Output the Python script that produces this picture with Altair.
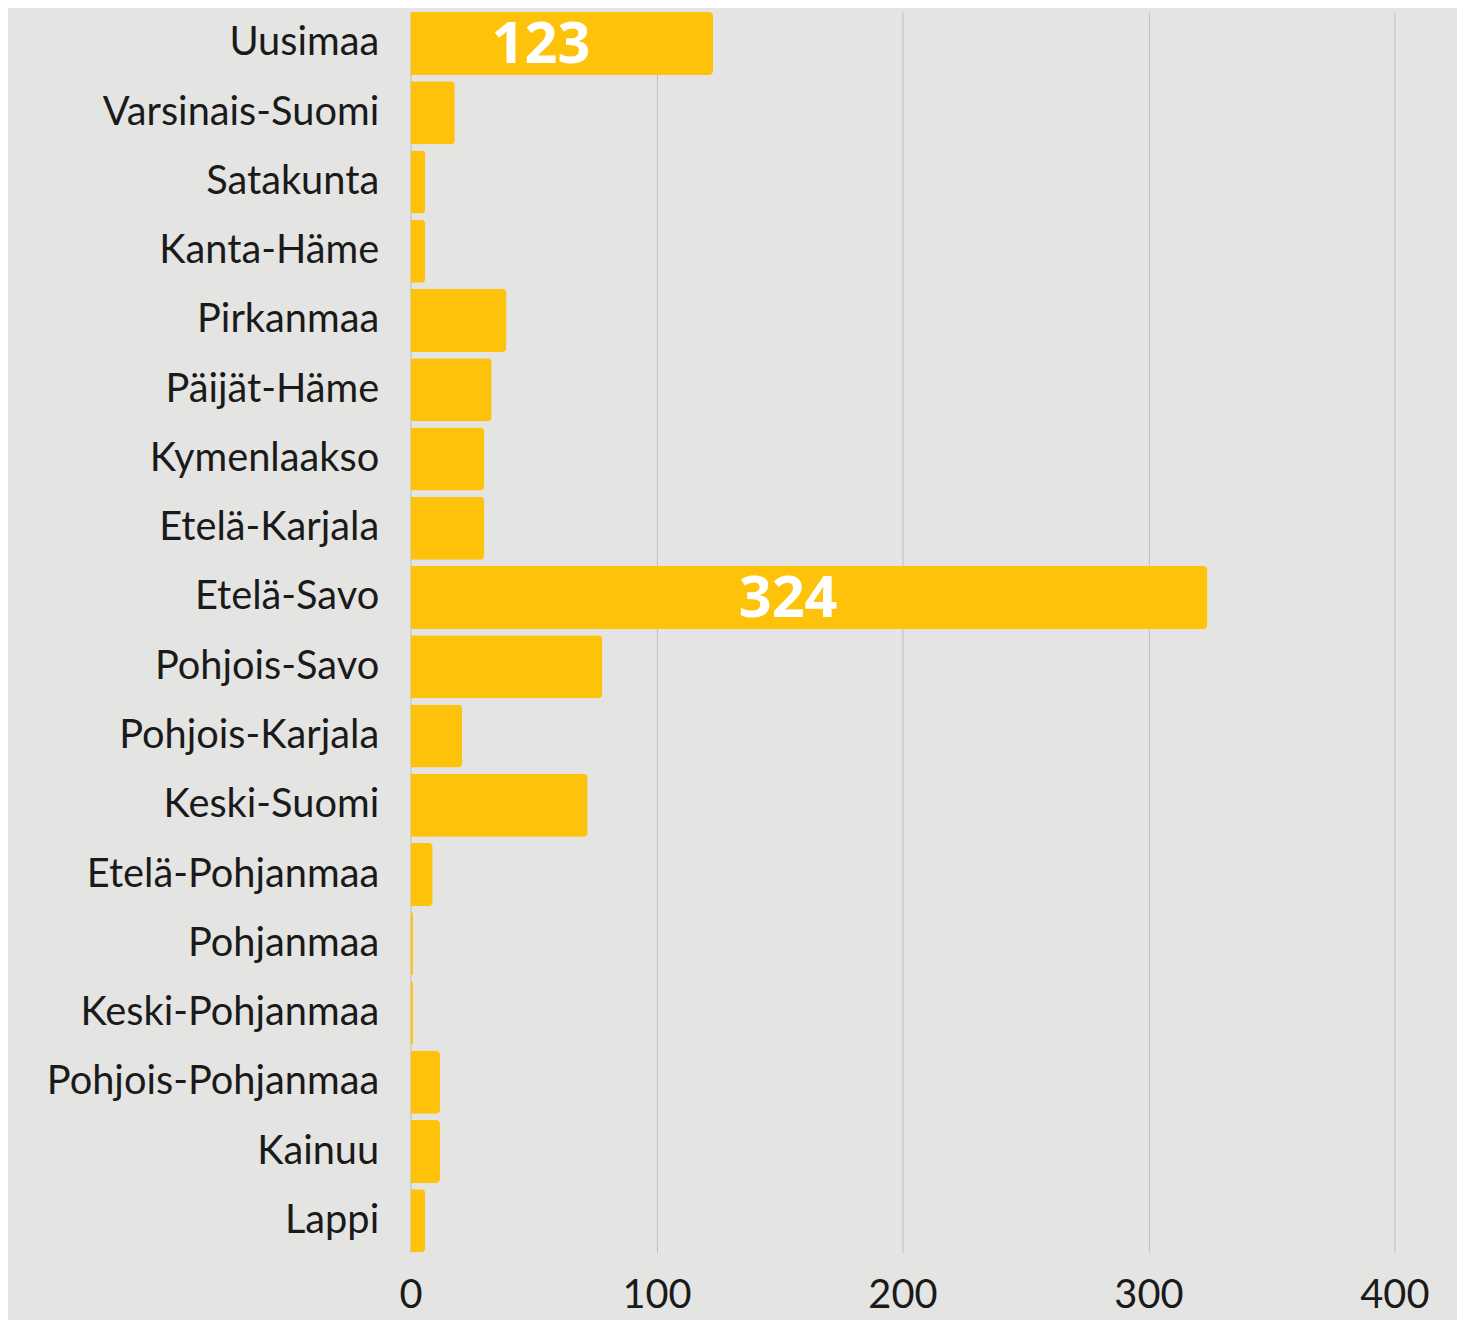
import altair as alt
import pandas as pd

regions = ["Uusimaa", "Varsinais-Suomi", "Satakunta", "Kanta-Häme", "Pirkanmaa",
           "Päijät-Häme", "Kymenlaakso", "Etelä-Karjala", "Etelä-Savo", "Pohjois-Savo",
           "Pohjois-Karjala", "Keski-Suomi", "Etelä-Pohjanmaa", "Pohjanmaa",
           "Keski-Pohjanmaa", "Pohjois-Pohjanmaa", "Kainuu", "Lappi"]
values = [123, 18, 6, 6, 39, 33, 30, 30, 324, 78, 21, 72, 9, 1, 1, 12, 12, 6]
labels = ["123", "", "", "", "", "", "", "", "324", "", "", "", "", "", "", "", "", ""]

df = pd.DataFrame({"region": regions, "value": values, "label": labels})
df["half"] = df["value"] / 2

y = alt.Y("region:N", sort=regions, title=None,
          scale=alt.Scale(paddingInner=0.09, paddingOuter=0),
          axis=alt.Axis(labelFont="Lato", labelFontSize=40, labelColor="#1a1a1a",
                        labelPadding=32, ticks=False, domain=False, grid=False,
                        labelLimit=600))

bars = alt.Chart(df).mark_bar(color="#FFC20A", cornerRadiusEnd=4).encode(
    x=alt.X("value:Q", title=None,
            scale=alt.Scale(domain=[0, 400], nice=False),
            axis=alt.Axis(values=[0, 100, 200, 300, 400], labelFont="Lato",
                          labelFontSize=40, labelColor="#1a1a1a", labelPadding=24,
                          ticks=False, domain=False, grid=True, gridColor="#bdbdbd",
                          gridWidth=1, labelFlush=False)),
    y=y,
)

text = alt.Chart(df).transform_filter("datum.label != ''").mark_text(
    font="Open Sans", fontWeight="bold", fontSize=58, color="white",
    align="center", baseline="middle", dx=-21, dy=3
).encode(
    x=alt.X("half:Q"),
    y=alt.Y("region:N", sort=regions),
    text="label:N",
)

chart = alt.layer(bars, text).properties(
    width=990, height=1248, background="#e4e4e2",
    padding={"left": 38, "top": 0, "right": 28, "bottom": 0}
).configure_view(stroke=None)

chart.save("out.html", embed_options={"renderer": "svg", "actions": False})
